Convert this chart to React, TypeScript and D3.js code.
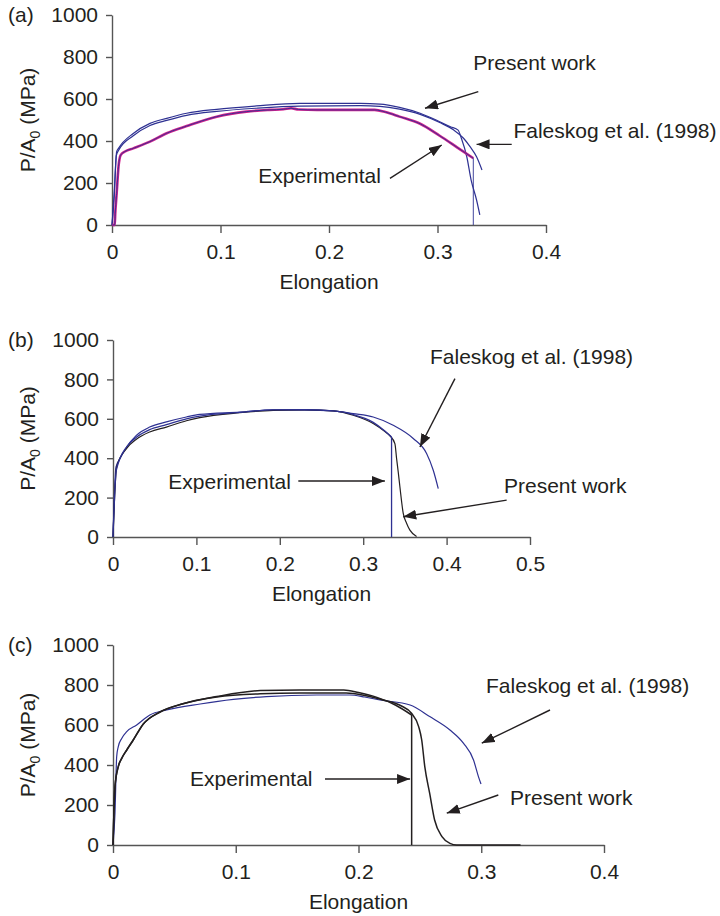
import React, { useEffect, useRef } from 'react';
import * as d3 from 'd3';

type Pt = [number, number];

// tick values
const loadTicks = [0, 200, 400, 600, 800, 1000];
const elongTicksA = [0, 0.1, 0.2, 0.3, 0.4];
const elongTicksB = [0, 0.1, 0.2, 0.3, 0.4, 0.5];
const elongTicksC = [0, 0.1, 0.2, 0.3, 0.4];

const labelExp = 'Experimental';
const labelPresent = 'Present work';
const labelFaleskog = 'Faleskog et al. (1998)';

// panel (a): [elongation, P/A0 in MPa]
const expA: Pt[] = [
  [0, 0], [0.0025, 0], [0.003, 56], [0.0043, 151], [0.006, 278], [0.008, 333], [0.012, 350],
  [0.0196, 365], [0.035, 397], [0.0504, 437], [0.0688, 471], [0.0965, 516], [0.124, 540],
  [0.145, 548], [0.158, 551], [0.165, 556], [0.172, 550], [0.189, 548], [0.242, 548],
  [0.252, 538], [0.265, 516], [0.284, 482], [0.302, 425], [0.318, 370], [0.333, 318], [0.333, 0],
];
const presentA: Pt[] = [
  [0, 0], [0.002, 150], [0.0043, 349], [0.006, 365], [0.0196, 436], [0.035, 484], [0.0504, 508],
  [0.0688, 532], [0.0965, 551], [0.133, 567], [0.173, 579], [0.229, 579], [0.247, 576],
  [0.265, 560], [0.284, 532], [0.302, 492], [0.312, 468], [0.319, 452], [0.322, 413],
  [0.327, 325], [0.331, 214], [0.336, 119], [0.339, 48],
];
const faleskogA: Pt[] = [
  [0, 0], [0.002, 130], [0.004, 330], [0.006, 355], [0.0196, 425], [0.035, 474], [0.0504, 498],
  [0.0688, 522], [0.0965, 541], [0.133, 556], [0.173, 566], [0.229, 568], [0.247, 565],
  [0.265, 552], [0.284, 527], [0.302, 488], [0.315, 452], [0.324, 413], [0.33, 373],
  [0.336, 325], [0.341, 262],
];

// panel (b)
const expB: Pt[] = [
  [0, 0], [0.004, 340], [0.0164, 458], [0.028, 506], [0.044, 545], [0.064, 570], [0.088, 600],
  [0.104, 614], [0.152, 633], [0.192, 645], [0.23, 646], [0.264, 640], [0.288, 622],
  [0.312, 582], [0.326, 538], [0.334, 508], [0.334, 0],
];
const presentB: Pt[] = [
  [0, 0], [0.0044, 356], [0.0164, 450], [0.028, 496], [0.044, 533], [0.064, 558], [0.088, 590],
  [0.104, 606], [0.152, 631], [0.192, 643], [0.23, 645], [0.264, 640], [0.288, 618],
  [0.312, 576], [0.326, 535], [0.332, 514], [0.338, 474], [0.34, 400], [0.342, 330],
  [0.344, 255], [0.348, 120], [0.352, 70], [0.356, 35], [0.364, 3],
];
const faleskogB: Pt[] = [
  [0, 0], [0.0036, 356], [0.0084, 398], [0.0164, 457], [0.028, 516], [0.044, 558], [0.064, 584],
  [0.088, 609], [0.104, 622], [0.152, 634], [0.192, 646], [0.23, 645], [0.264, 640],
  [0.288, 626], [0.312, 609], [0.336, 567], [0.36, 500], [0.376, 424], [0.384, 339], [0.39, 246],
];

// panel (c)
const expC: Pt[] = [
  [0, 0], [0.0016, 292], [0.0043, 392], [0.0071, 433], [0.0112, 475], [0.0165, 525],
  [0.0247, 605], [0.0383, 665], [0.057, 706], [0.0845, 742], [0.12, 772], [0.152, 775],
  [0.188, 775], [0.2, 762], [0.215, 738], [0.23, 700], [0.2433, 650], [0.2433, 0],
];
const presentC: Pt[] = [
  [0, 0], [0.0016, 292], [0.0043, 392], [0.0071, 433], [0.0112, 475], [0.0165, 525],
  [0.0247, 605], [0.0383, 665], [0.057, 706], [0.0845, 740], [0.12, 756], [0.152, 760],
  [0.19, 760], [0.205, 748], [0.22, 725], [0.235, 695], [0.243, 660], [0.249, 592],
  [0.2515, 525], [0.254, 392], [0.258, 258], [0.262, 125], [0.268, 42], [0.2745, 8],
  [0.28, 0], [0.332, 0],
];
const faleskogC: Pt[] = [
  [0, 0], [0.0016, 158], [0.003, 442], [0.0043, 492], [0.0071, 533], [0.0112, 567],
  [0.0193, 600], [0.03, 650], [0.0437, 675], [0.071, 705], [0.098, 728], [0.125, 742],
  [0.166, 750], [0.193, 750], [0.205, 740], [0.2175, 725], [0.242, 700], [0.258, 642],
  [0.2745, 575], [0.2856, 508], [0.2937, 425], [0.2977, 342], [0.2998, 305],
];

const BLUE = '#2e3192';
const MAGENTA = '#d21f8c';
const INK = '#231f20';
const FONT = '"Liberation Sans", Arial, Helvetica, sans-serif';
const FS = 21;

const panels = [
  {
    tag: '(a)', left: 112, right: 546, top: 15, bottom: 225, xMax: 0.4, xTicks: elongTicksA,
    series: [
      { data: faleskogA, color: BLUE, width: 1.2 },
      { data: presentA, color: BLUE, width: 1.2 },
      { data: expA.slice(0, -1), color: MAGENTA, width: 2.6 },
      { data: expA, color: BLUE, width: 0.9 },
    ],
    notes: [
      { text: labelPresent, at: [0.333, 738], from: [0.3376, 635], to: [0.2885, 556] },
      { text: labelFaleskog, at: [0.37, 413], from: [0.3684, 384], to: [0.336, 384] },
      { text: labelExp, at: [0.1348, 199], from: [0.2562, 222], to: [0.3039, 381] },
    ],
  },
  {
    tag: '(b)', left: 113, right: 530, top: 340, bottom: 537, xMax: 0.5, xTicks: elongTicksB,
    series: [
      { data: faleskogB, color: BLUE, width: 1.2 },
      { data: presentB, color: INK, width: 1.2 },
      { data: expB, color: BLUE, width: 1.3 },
    ],
    notes: [
      { text: labelFaleskog, at: [0.3801, 879], from: [0.41, 804], to: [0.368, 457] },
      { text: labelPresent, at: [0.4688, 221], from: [0.472, 187], to: [0.348, 103] },
      { text: labelExp, at: [0.0663, 242], from: [0.2222, 284], to: [0.326, 284] },
    ],
  },
  {
    tag: '(c)', left: 113, right: 604, top: 645, bottom: 845, xMax: 0.4, xTicks: elongTicksC,
    series: [
      { data: faleskogC, color: BLUE, width: 1.2 },
      { data: presentC, color: INK, width: 1.5 },
      { data: expC, color: INK, width: 1.5 },
    ],
    notes: [
      { text: labelFaleskog, at: [0.3039, 759], from: [0.356, 675], to: [0.3004, 509] },
      { text: labelPresent, at: [0.3234, 200], from: [0.3139, 250], to: [0.2719, 159] },
      { text: labelExp, at: [0.0627, 295], from: [0.1727, 330], to: [0.242, 330] },
    ],
  },
];

// split a curve where x stops increasing, so vertical drops stay straight
function pieces(data: Pt[]): Pt[][] {
  const out: Pt[][] = [];
  let cur: Pt[] = [data[0]];
  for (let i = 1; i < data.length; i++) {
    if (data[i][0] > data[i - 1][0]) {
      cur.push(data[i]);
    } else {
      if (cur.length > 1) out.push(cur);
      out.push([data[i - 1], data[i]]);
      cur = [data[i]];
    }
  }
  if (cur.length > 1) out.push(cur);
  return out;
}

export default function App() {
  const svgRef = useRef<SVGSVGElement>(null);

  useEffect(() => {
    const svg = d3.select(svgRef.current);
    svg.selectAll('*').remove();

    svg.append('defs').append('marker')
      .attr('id', 'head')
      .attr('markerUnits', 'userSpaceOnUse')
      .attr('markerWidth', 13).attr('markerHeight', 10)
      .attr('refX', 13).attr('refY', 5)
      .attr('orient', 'auto')
      .append('path')
      .attr('d', 'M0,0 L13,5 L0,10 Z')
      .attr('fill', INK);

    panels.forEach(p => {
      const x = d3.scaleLinear().domain([0, p.xMax]).range([p.left, p.right]);
      const y = d3.scaleLinear().domain([0, 1000]).range([p.bottom, p.top]);
      const g = svg.append('g');

      // axes
      const xAxis = g.append('g')
        .attr('transform', `translate(0,${p.bottom})`)
        .call(d3.axisBottom(x).tickValues(p.xTicks).tickFormat(d => String(d))
          .tickSize(8).tickSizeOuter(0).tickPadding(11));
      const yAxis = g.append('g')
        .attr('transform', `translate(${p.left},0)`)
        .call(d3.axisLeft(y).tickValues(loadTicks).tickFormat(d => String(d))
          .tickSize(6).tickSizeOuter(0).tickPadding(8));
      [xAxis, yAxis].forEach(a => {
        a.attr('font-family', FONT).attr('font-size', FS);
        a.select('.domain').attr('stroke', '#555').attr('stroke-width', 1.4);
        a.selectAll('.tick line').attr('stroke', '#555').attr('stroke-width', 1.4);
        a.selectAll('.tick text').attr('fill', INK);
      });

      // curves
      const smooth = d3.line<Pt>().x(d => x(d[0])).y(d => y(d[1])).curve(d3.curveMonotoneX);
      const straight = d3.line<Pt>().x(d => x(d[0])).y(d => y(d[1]));
      p.series.forEach(s => {
        const d = pieces(s.data)
          .map(part => (part[0][0] === part[part.length - 1][0] ? straight(part) : smooth(part)))
          .join('');
        g.append('path')
          .attr('d', d)
          .attr('fill', 'none')
          .attr('stroke', s.color)
          .attr('stroke-width', s.width)
          .attr('stroke-linejoin', 'round');
      });

      // annotations
      p.notes.forEach(n => {
        g.append('text')
          .attr('x', x(n.at[0])).attr('y', y(n.at[1]))
          .attr('font-family', FONT).attr('font-size', FS).attr('fill', INK)
          .text(n.text);
        g.append('line')
          .attr('x1', x(n.from[0])).attr('y1', y(n.from[1]))
          .attr('x2', x(n.to[0])).attr('y2', y(n.to[1]))
          .attr('stroke', INK).attr('stroke-width', 1.4)
          .attr('marker-end', 'url(#head)');
      });

      // panel tag
      g.append('text')
        .attr('x', 8).attr('y', p.top + 7)
        .attr('font-family', FONT).attr('font-size', FS).attr('fill', INK)
        .text(p.tag);

      // axis titles
      g.append('text')
        .attr('x', (p.left + p.right) / 2).attr('y', p.bottom + 64)
        .attr('text-anchor', 'middle')
        .attr('font-family', FONT).attr('font-size', FS).attr('fill', INK)
        .text('Elongation');
      const yl = g.append('text')
        .attr('transform', `translate(35,${(p.top + p.bottom) / 2}) rotate(-90)`)
        .attr('text-anchor', 'middle')
        .attr('font-family', FONT).attr('font-size', FS).attr('fill', INK);
      yl.append('tspan').text('P/A');
      yl.append('tspan').attr('dy', 5).attr('font-size', 14).text('0');
      yl.append('tspan').attr('dy', -5).text(' (MPa)');
    });
  }, []);

  return (
    <svg
      ref={svgRef}
      width={720}
      height={916}
      style={{ position: 'absolute', left: 0, top: 0, background: '#fff' }}
    />
  );
}
